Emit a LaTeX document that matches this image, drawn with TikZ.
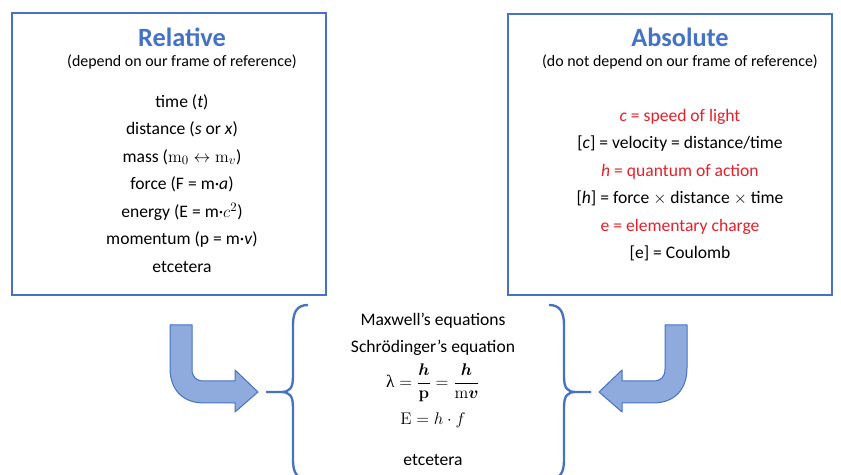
\documentclass[tikz,border=0pt]{standalone}
\usepackage{amsmath}
\usepackage{bm}
\usepackage[no-math]{fontspec}
\setmainfont{Carlito}
\newfontfamily\greekserif{Liberation Serif}
\usetikzlibrary{positioning}
\definecolor{boxblue}{HTML}{4472C4}
\definecolor{arrowfill}{HTML}{8FAADC}
\definecolor{keyred}{HTML}{E5202A}

\begin{document}
\begin{tikzpicture}[x=0.3mm, y=-0.3mm, node distance={8.25mm},
        main/.style = {draw=boxblue, line width=0.6mm},
        title/.style = {font=\fontsize{22.5}{26}\selectfont\bfseries, text=boxblue},
        sub/.style = {font=\fontsize{13.6}{16}\selectfont},
        item/.style = {font=\fontsize{15}{18}\selectfont, text height=11pt, text depth=3.5pt, inner sep=0pt},
        formula/.style = {font=\fontsize{15}{18}\selectfont, inner sep=0pt},
        brace/.style = {draw=boxblue, line width=0.7mm},
        bigarrow/.style = {fill=arrowfill, draw=boxblue, line width=0.3mm, line join=round}]
            \useasboundingbox (0,0) rectangle (841,475);

            % the two boxes
            \draw[main] (12,13) rectangle (326,295);
            \draw[main] (508,14) rectangle (832,295);

            % relative quantities
            \node[title] (Rel) at (182,37) {Relative};
            \node[sub] (RelSub) at (182,62) {(depend on our frame of reference)};
            \node[item] (Time) at (182,103) {time (\textit{t})};
            \node[item] (Dist) [below of=Time] {distance (\textit{s} or \textit{x})};
            \node[item] (Mass) [below of=Dist] {mass ($\mathrm{m}_0 \leftrightarrow \mathrm{m}_v$)};
            \node[item] (Force) [below of=Mass] {force (F = m·\textit{a})};
            \node[item] (Energy) [below of=Force] {energy (E = m·$c^2$)};
            \node[item] (Mom) [below of=Energy] {momentum (p = m·\textit{v})};
            \node[item] (RelEtc) [below of=Mom] {etcetera};

            % absolute quantities
            \node[title] (Abs) at (680,37) {Absolute};
            \node[sub] (AbsSub) at (680,62) {(do not depend on our frame of reference)};
            \node[item, text=keyred] (Light) at (680,117) {\textit{c} = speed of light};
            \node[item] (Velo) [below of=Light] {[\textit{c}] = velocity = distance/time};
            \node[item, text=keyred] (Planck) [below of=Velo] {\textit{h} = quantum of action};
            \node[item] (Action) [below of=Planck] {[\textit{h}] = force $\times$ distance $\times$ time};
            \node[item, text=keyred] (Charge) [below of=Action] {e = elementary charge};
            \node[item] (Coul) [below of=Charge] {[e] = Coulomb};

            % laws in the middle
            \node[item] (Maxw) at (433,321) {Maxwell's equations};
            \node[item] (Schr) [below of=Maxw] {Schrödinger's equation};
            \node[formula] (Broglie) at (433,383) {{\greekserif λ}$\;= \dfrac{\bm{h}}{\mathbf{p}} = \dfrac{\bm{h}}{\mathrm{m}\bm{v}}$};
            \node[item] (Quant) at (433,420) {$\mathrm{E} = h \cdot f$};
            \node[item] (MidEtc) at (433,461) {etcetera};

            % braces
            \coordinate (LTip) at (266,392);
            \coordinate (RTip) at (591,392);
            \draw[brace] (308,305) .. controls (297,305) and (293,312) .. (293,325) -- (293,376)
                .. controls (293,388) and (290,392) .. (281,392) -- (LTip)
                (281,392) .. controls (290,392) and (293,396) .. (293,408) -- (293,460)
                .. controls (293,473) and (297,479) .. (308,479);
            \draw[brace] (549,305) .. controls (560,305) and (564,312) .. (564,325) -- (564,376)
                .. controls (564,388) and (567,392) .. (576,392) -- (RTip)
                (576,392) .. controls (567,392) and (564,396) .. (564,408) -- (564,460)
                .. controls (564,473) and (560,479) .. (549,479);

            % bent arrows
            \draw[bigarrow] (170,325) -- (170,368) .. controls (170,390) and (183,403) .. (204,403)
                -- (235,403) -- (235,412) -- (258,392) -- (235,370) -- (235,381) -- (204,381)
                .. controls (196,381) and (192,377) .. (192,369) -- (192,325) -- cycle;
            \draw[bigarrow] (687,325) -- (687,368) .. controls (687,390) and (674,403) .. (653,403)
                -- (622,403) -- (622,412) -- (599,392) -- (622,370) -- (622,381) -- (653,381)
                .. controls (661,381) and (665,377) .. (665,369) -- (665,325) -- cycle;
        \end{tikzpicture}
\end{document}
